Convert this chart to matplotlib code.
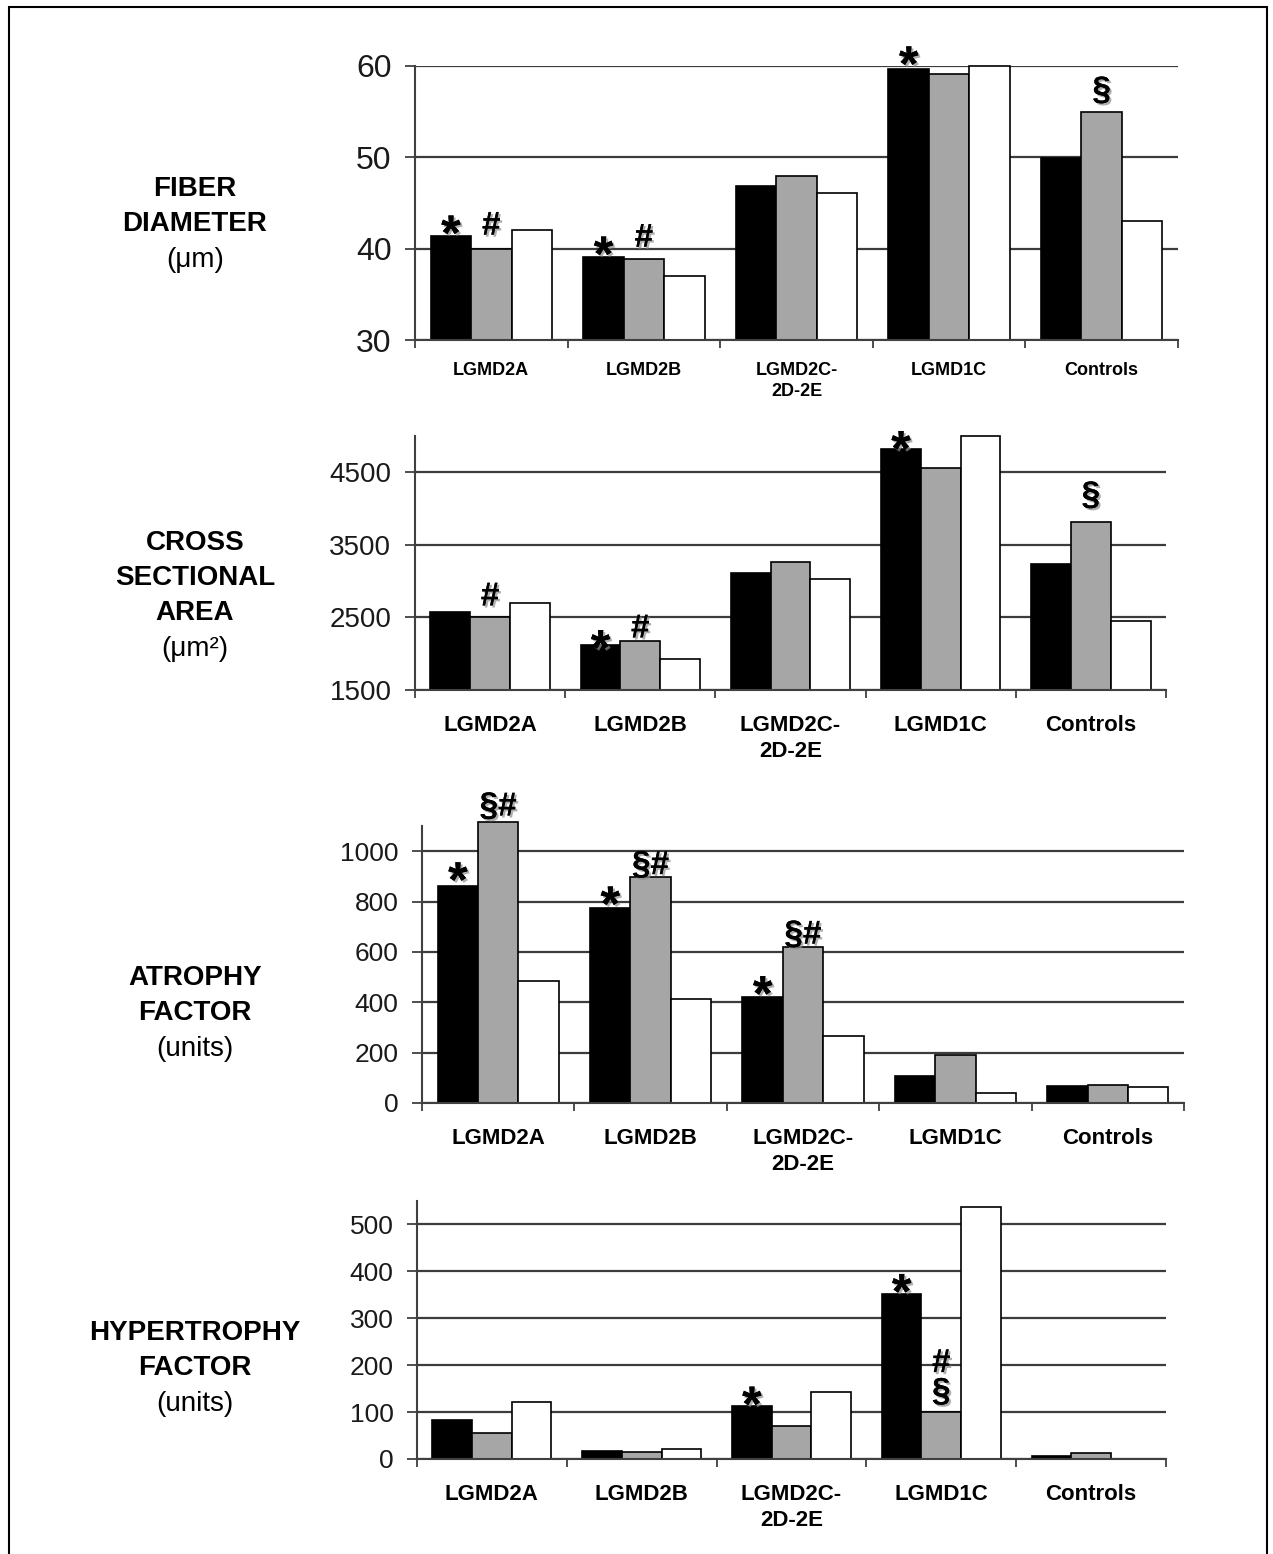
import matplotlib
matplotlib.use("Agg")
import matplotlib.pyplot as plt
import matplotlib.patheffects as pe
from matplotlib.patches import Rectangle
from matplotlib.ticker import FixedLocator, NullFormatter
import numpy as np

plt.rcParams['font.family'] = ['Liberation Sans', 'DejaVu Sans']

# ---------------- data ----------------
groups = ["LGMD2A", "LGMD2B", "LGMD2C-\n2D-2E", "LGMD1C", "Controls"]

# three series per group: black, grey, white
fiber_black = [41.4, 39.1, 46.9, 59.7, 49.9]
fiber_grey = [40.0, 38.9, 48.0, 59.1, 55.0]
fiber_white = [42.0, 37.0, 46.1, 60.0, 43.0]

csa_black = [2576, 2114, 3107, 4815, 3240]
csa_grey = [2500, 2169, 3258, 4563, 3821]
csa_white = [2695, 1930, 3025, 5000, 2444]

atrophy_black = [863, 775, 419, 107, 69]
atrophy_grey = [1114, 897, 621, 189, 72]
atrophy_white = [485, 414, 267, 40, 63]

hyper_black = [83, 16, 113, 351, 6]
hyper_grey = [55, 14, 71, 100, 13]
hyper_white = [121, 21, 143, 537, 0]

fiber_ticks = [30, 40, 50, 60]
csa_ticks = [1500, 2500, 3500, 4500]
atrophy_ticks = [0, 200, 400, 600, 800, 1000]
hyper_ticks = [0, 100, 200, 300, 400, 500]

# significance marks: (group, series, symbol, baseline offset in px)
fiber_marks = [(0, 0, "*", -14), (0, 1, "#", 14), (1, 0, "*", -14), (1, 1, "#", 12),
               (3, 0, "*", -12), (4, 1, "§", 12)]
csa_marks = [(0, 1, "#", 12), (1, 0, "*", -19), (1, 1, "#", 4), (3, 0, "*", -16),
             (4, 1, "§", 17)]
atrophy_marks = [(0, 0, "*", -11), (0, 1, "§#", 7), (1, 0, "*", -13), (1, 1, "§#", 3),
                 (2, 0, "*", -13), (2, 1, "§#", 3)]
hyper_marks = [(2, 0, "*", -15), (3, 0, "*", -14), (3, 1, "§", 11), (3, 1, "#", 40)]

# ---------------- figure ----------------
W, H = 1273, 1554
fig = plt.figure(figsize=(W / 100, H / 100), dpi=100)
fig.patch.set_facecolor("white")


def fig_rect(left, top, right, bottom):
    return [left / W, 1 - bottom / H, (right - left) / W, (bottom - top) / H]


bar_colors = ["#000000", "#a6a6a6", "#ffffff"]
grid_col = "#3c3c3c"
bw = 0.265

panels = [
    dict(rect=fig_rect(415, 66, 1178, 340), series=[fiber_black, fiber_grey, fiber_white],
         ylim=(30, 60), ticks=fiber_ticks, yfs=23, xfs=13, xpad=16, marks=fiber_marks,
         title=[("FIBER", 189, True), ("DIAMETER", 224, True), ("(μm)", 260, False)]),
    dict(rect=fig_rect(415, 436, 1166, 690), series=[csa_black, csa_grey, csa_white],
         ylim=(1500, 5000), ticks=csa_ticks, yfs=20, xfs=16, xpad=18, marks=csa_marks,
         title=[("CROSS", 543, True), ("SECTIONAL", 578, True), ("AREA", 613, True),
                ("(μm²)", 649, False)]),
    dict(rect=fig_rect(422, 826, 1184, 1103), series=[atrophy_black, atrophy_grey, atrophy_white],
         ylim=(0, 1100), ticks=atrophy_ticks, yfs=19, xfs=16, xpad=18, marks=atrophy_marks,
         title=[("ATROPHY", 978, True), ("FACTOR", 1013, True), ("(units)", 1049, False)]),
    dict(rect=fig_rect(417, 1201, 1166, 1459), series=[hyper_black, hyper_grey, hyper_white],
         ylim=(0, 550), ticks=hyper_ticks, yfs=19, xfs=16, xpad=18, marks=hyper_marks,
         title=[("HYPERTROPHY", 1333, True), ("FACTOR", 1368, True), ("(units)", 1404, False)]),
]

x = np.arange(len(groups)) + 0.5
shadow = [pe.withSimplePatchShadow(offset=(1.5, -1.5), shadow_rgbFace="0.55", alpha=0.7),
          pe.Normal()]

for p in panels:
    ax = fig.add_axes(p["rect"])
    ax.set_xlim(0, len(groups))
    ymin = p["ylim"][0]
    ax.set_ylim(*p["ylim"])
    ax.set_axisbelow(True)
    ax.yaxis.grid(True, color=grid_col, lw=1.6)
    ax.xaxis.grid(False)

    for i, vals in enumerate(p["series"]):
        heights = np.asarray(vals, dtype=float) - ymin
        ax.bar(x + (i - 1) * bw, heights, width=bw, bottom=ymin, color=bar_colors[i],
               edgecolor="black", linewidth=1.2, zorder=2, clip_on=False)

    for g, s, sym, dy in p["marks"]:
        val = p["series"][s][g]
        size = 36 if sym == "*" else 24
        ax.annotate(sym, xy=(x[g] + (s - 1) * bw, val), xytext=(0, dy),
                    textcoords="offset pixels", ha="center", va="baseline",
                    fontsize=size, fontweight="bold", color="black",
                    path_effects=shadow, zorder=5, annotation_clip=False)

    for side in ("top", "right"):
        ax.spines[side].set_visible(False)
    for side in ("left", "bottom"):
        ax.spines[side].set_color("#404040")
        ax.spines[side].set_linewidth(1.5)

    ax.set_yticks(p["ticks"])
    ax.set_yticklabels([str(t) for t in p["ticks"]], fontsize=p["yfs"], color="#1a1a1a")
    ax.tick_params(axis="y", direction="out", length=7, width=1.3, color="#404040", pad=10)

    ax.set_xticks(x)
    ax.set_xticklabels(groups, fontsize=p["xfs"], fontweight="bold", linespacing=1.3)
    ax.tick_params(axis="x", which="major", length=0, pad=p["xpad"])
    ax.xaxis.set_minor_locator(FixedLocator(np.arange(len(groups) + 1)))
    ax.xaxis.set_minor_formatter(NullFormatter())
    ax.tick_params(axis="x", which="minor", direction="out", length=6, width=1.3,
                   color="#404040")

    for text, yc, bold in p["title"]:
        fig.text(195 / W, 1 - yc / H, text, ha="center", va="center", fontsize=20,
                 fontweight="bold" if bold else "normal", color="black")

# outer frame
fig.add_artist(Rectangle((9 / W, -0.01), (1267 - 9) / W, 1.01 - 7 / H,
                         transform=fig.transFigure, fill=False, edgecolor="black", lw=1.5))

fig.savefig("out.png", dpi=100, facecolor="white")
